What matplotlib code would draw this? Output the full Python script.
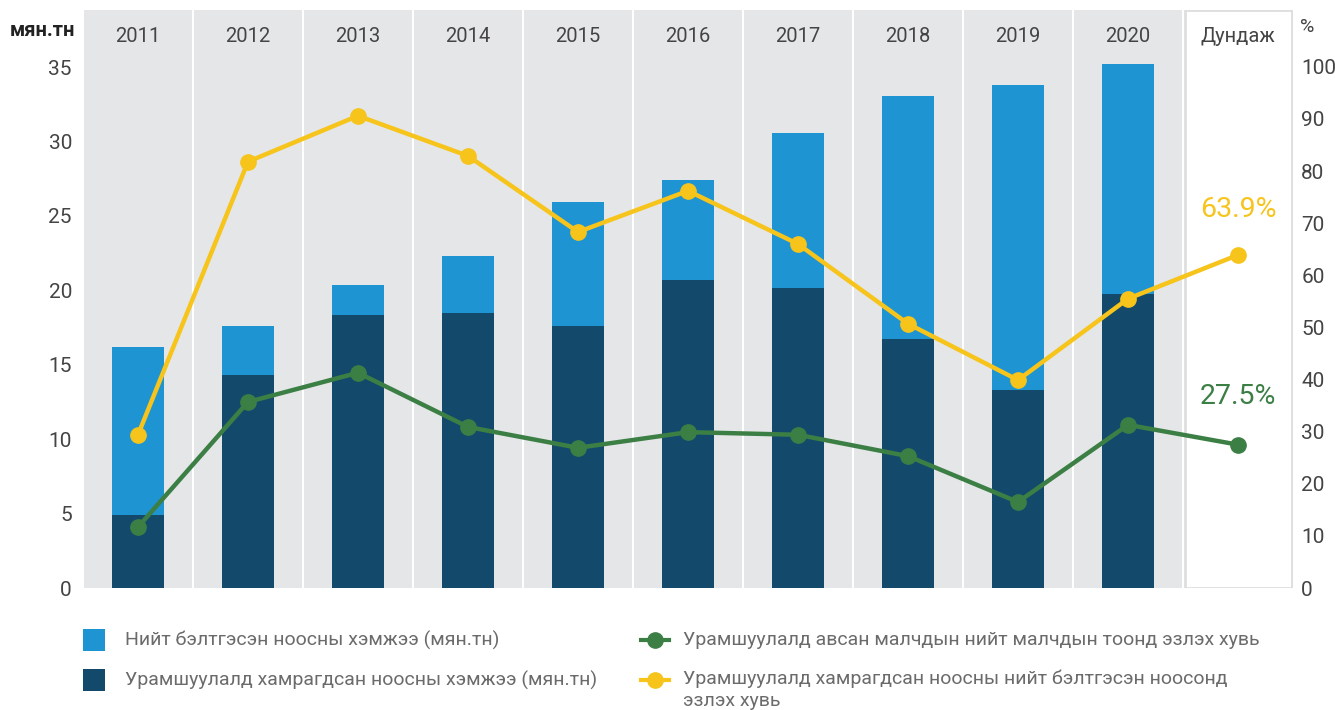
import numpy as np
import matplotlib
matplotlib.use('Agg')
import matplotlib.pyplot as plt
from matplotlib.patches import Rectangle
from matplotlib.lines import Line2D

plt.rcParams['font.family'] = ['Roboto', 'DejaVu Sans']

# data
years = ['2011', '2012', '2013', '2014', '2015', '2016', '2017', '2018', '2019', '2020']
total_wool = [16.2, 17.6, 20.35, 22.3, 25.9, 27.4, 30.6, 33.05, 33.8, 35.2]      # мян.тн
covered_wool = [4.9, 14.3, 18.35, 18.5, 17.6, 20.7, 20.15, 16.75, 13.3, 19.75]  # мян.тн
herders_pct = [11.7, 35.7, 41.3, 30.9, 26.9, 29.9, 29.4, 25.3, 16.5, 31.3]
wool_pct = [29.4, 81.8, 90.6, 82.9, 68.3, 76.2, 66.0, 50.7, 39.9, 55.5]
avg_label = 'Дундаж'
avg_herders = 27.5
avg_wool = 63.9

c_light = '#1f94d2'
c_dark = '#134a6b'
c_yellow = '#f6c41b'
c_green = '#3c7f45'
c_text = '#444444'
c_bg = '#e5e6e8'

fig = plt.figure(figsize=(13.35, 7.1), dpi=100)
ax = fig.add_axes([83/1335, 122/710, 1210/1335, 578/710])
ax2 = ax.twinx()

n = len(years)
x = np.arange(n)

# gray year columns + white average box
for i in range(n):
    ax.axvspan(i-0.5+0.01, i+0.5-0.01, color=c_bg, lw=0, zorder=0)
ax.add_patch(Rectangle((n-0.5+0.02, 0.0), 0.97, 1.0, transform=ax.get_xaxis_transform(),
                       facecolor='white', edgecolor='#dedede', lw=2, zorder=0))

ax.bar(x, total_wool, width=0.48, color=c_light, zorder=2)
ax.bar(x, covered_wool, width=0.48, color=c_dark, zorder=3)

ax.set_xlim(-0.5, n+0.5)
ax.set_ylim(0, 38.83)
ax.set_yticks(np.arange(0, 36, 5))
ax.set_xticks([])

xa = np.arange(n+1)
ax2.plot(xa, wool_pct + [avg_wool], color=c_yellow, lw=3.2, marker='o', ms=11, zorder=5)
ax2.plot(xa, herders_pct + [avg_herders], color=c_green, lw=3.2, marker='o', ms=11, zorder=5)
ax2.set_ylim(0, 110.9)
ax2.set_yticks(np.arange(0, 101, 10))

for a in (ax, ax2):
    for s in a.spines.values():
        s.set_visible(False)
    a.tick_params(length=0, labelsize=15, labelcolor=c_text)
ax.tick_params(axis='y', pad=8)
ax2.tick_params(axis='y', pad=6)
ax.set_zorder(1); ax2.set_zorder(2)
ax.patch.set_visible(False)

for i, yr in enumerate(years + [avg_label]):
    ax.text(i, 0.955, yr, transform=ax.get_xaxis_transform(), ha='center', va='center',
            fontsize=14.5, color=c_text)

ax2.text(n, avg_wool+8.7, f'{avg_wool}%', ha='center', va='center', fontsize=20.5, color=c_yellow)
ax2.text(n, avg_herders+9.3, f'{avg_herders}%', ha='center', va='center', fontsize=20.5, color=c_green)

fig.text(75/1335, 1-30/710, 'мян.тн', ha='right', va='center', fontsize=14.5, fontweight='bold', color='#222222')
fig.text(1300/1335, 1-27/710, '%', ha='left', va='center', fontsize=14, color=c_text)

# legend
leg_col = '#6b6b6b'
leg_fs = 14
def square(xp, yp, col):
    fig.patches.append(Rectangle((xp/1335, 1-(yp+11)/710), 22/1335, 22/710,
                                 transform=fig.transFigure, facecolor=col, edgecolor='none'))
def dot(xp, yp, col):
    fig.lines.append(Line2D([(xp-14)/1335, (xp+14)/1335], [1-yp/710, 1-yp/710], color=col, lw=3,
                            transform=fig.transFigure))
    fig.lines.append(Line2D([xp/1335], [1-yp/710], marker='o', ms=11, color=col,
                            transform=fig.transFigure))

square(83, 640, c_light)
fig.text(125/1335, 1-640/710, 'Нийт бэлтгэсэн ноосны хэмжээ (мян.тн)', va='center', fontsize=leg_fs, color=leg_col)
square(83, 680, c_dark)
fig.text(125/1335, 1-680/710, 'Урамшуулалд хамрагдсан ноосны хэмжээ (мян.тн)', va='center', fontsize=leg_fs, color=leg_col)
dot(655, 640, c_green)
fig.text(683/1335, 1-640/710, 'Урамшуулалд авсан малчдын нийт малчдын тоонд эзлэх хувь', va='center', fontsize=leg_fs, color=leg_col)
dot(655, 680, c_yellow)
fig.text(683/1335, 1-679/710, 'Урамшуулалд хамрагдсан ноосны нийт бэлтгэсэн ноосонд', va='center', fontsize=leg_fs, color=leg_col)
fig.text(683/1335, 1-701/710, 'эзлэх хувь', va='center', fontsize=leg_fs, color=leg_col)

fig.savefig('out.png', dpi=100)
